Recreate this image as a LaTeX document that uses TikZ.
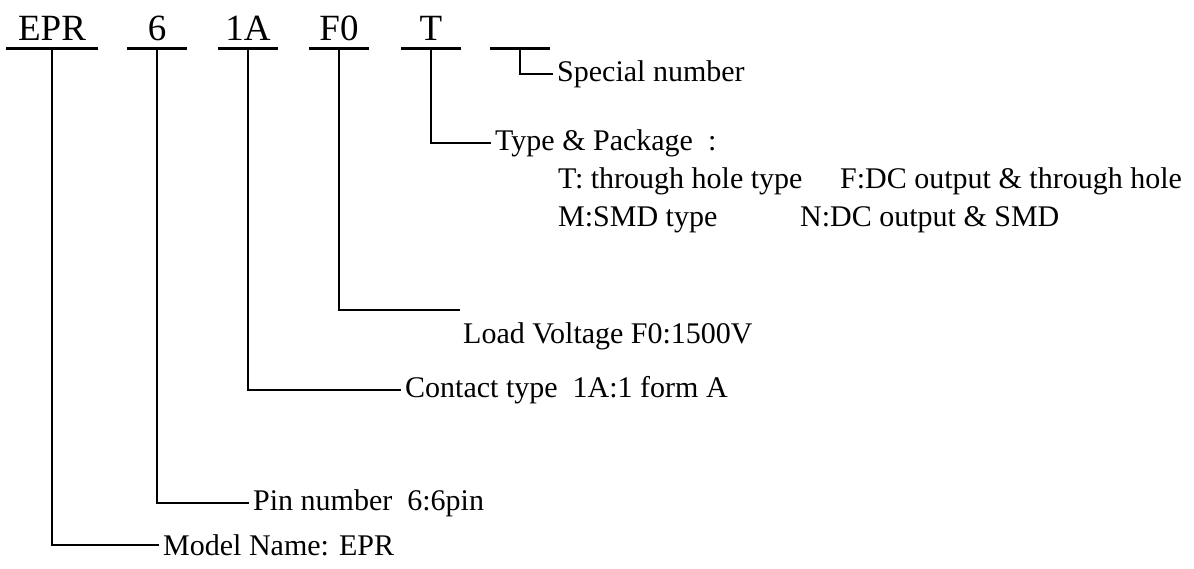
\documentclass[tikz,border=0pt]{standalone}
\usepackage{fontspec}
\setmainfont{Liberation Serif}

\tikzset{
  codetext/.style={font=\fontsize{37}{42}\selectfont,inner sep=0pt,anchor=base},
  desc/.style={font=\fontsize{30}{36}\selectfont,anchor=west,inner xsep=4pt,inner ysep=0pt},
  bar/.style={line width=3pt},
  lead/.style={line width=2pt}
}

\begin{document}
\begin{tikzpicture}[x=1pt,y=-1pt,line join=miter]
  \useasboundingbox (0,0) rectangle (1194,568);
  % part number fields with their underlines
  \foreach \name/\x/\w/\txt in {mdl/52/46/EPR,pin/157/30/6,ct/248/30/1A,lv/339/30/F0,tp/431/30/T,sp/520/30/{}} {
    \node[codetext] (\name) at (\x,40) {\txt};
    \draw[bar] (\x-\w,48) -- (\x+\w,48);
    \coordinate (\name-top) at (\x,48);
  }
  % special number
  \node[desc] (spd) at (553,74) {Special number};
  \draw[lead] (sp-top) |- (spd.west);
  % type and package
  \node[desc] (tpd) at (491,143) {Type \& Package\ \ :};
  \draw[lead] (tp-top) |- (tpd.west);
  \node[desc] (tpa) at (554,181) {T: through hole type};
  \node[desc] (tpb) at (836,181) {F:DC output \& through hole};
  \node[desc] (tpc) at (554,220) {M:SMD type};
  \node[desc] (tpd2) at (796,220) {N:DC output \& SMD};
  % load voltage
  \coordinate (lv-end) at (460,310);
  \draw[lead] (lv-top) |- (lv-end);
  \node[desc] (lvd) at (459,336) {Load Voltage F0:1500V};
  % contact type
  \node[desc] (ctd) at (401,390) {Contact type\ \ 1A:1 form A};
  \draw[lead] (ct-top) |- (ctd.west);
  % pin number
  \node[desc] (pind) at (249,503) {Pin number\ \ 6:6pin};
  \draw[lead] (pin-top) |- (pind.west);
  % model name
  \node[desc] (mdld) at (159,545) {Model Name: EPR};
  \draw[lead] (mdl-top) |- (mdld.west);
\end{tikzpicture}
\end{document}
